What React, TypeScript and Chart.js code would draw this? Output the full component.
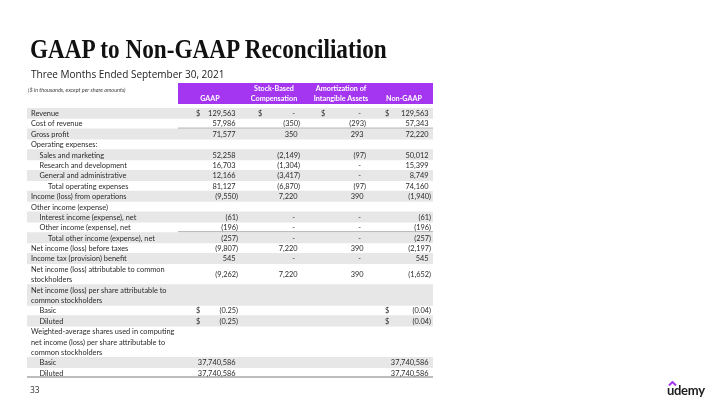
import React, { useEffect, useRef } from 'react';
import { Chart, registerables } from 'chart.js';

Chart.register(...registerables);

// ---------- data ----------
const rowLabels: string[] = [
  'Revenue',
  'Cost of revenue',
  'Gross profit',
  'Operating expenses:',
  'Sales and marketing',
  'Research and development',
  'General and administrative',
  'Total operating expenses',
  'Income (loss) from operations',
  'Other income (expense)',
  'Interest income (expense), net',
  'Other income (expense), net',
  'Total other income (expense), net',
  'Net income (loss) before taxes',
  'Income tax (provision) benefit',
  'Net income (loss) attributable to common\nstockholders',
  'Net income (loss) per share attributable to\ncommon stockholders',
  'Basic',
  'Diluted',
  'Weighted-average shares used in computing\nnet income (loss) per share attributable to\ncommon stockholders',
  'Basic',
  'Diluted',
];
const rowIndent: number[] = [0, 0, 0, 0, 1, 1, 1, 2, 0, 0, 1, 1, 2, 0, 0, 0, 0, 1, 1, 0, 1, 1];

const gaapValues: (number | null)[] = [129563, 57986, 71577, null, 52258, 16703, 12166, 81127, -9550, null, -61, -196, -257, -9807, 545, -9262, null, -0.25, -0.25, null, 37740586, 37740586];
const sbcValues: (number | null)[] = [0, -350, 350, null, -2149, -1304, -3417, -6870, 7220, null, 0, 0, 0, 7220, 0, 7220, null, null, null, null, null, null];
const amortValues: (number | null)[] = [0, -293, 293, null, -97, 0, 0, -97, 390, null, 0, 0, 0, 390, 0, 390, null, null, null, null, null, null];
const nonGaapValues: (number | null)[] = [129563, 57343, 72220, null, 50012, 15399, 8749, 74160, -1940, null, -61, -196, -257, -2197, 545, -1652, null, -0.04, -0.04, null, 37740586, 37740586];

const gaapDollarRows = [0, 17, 18];
const sbcDollarRows = [0];
const amortDollarRows = [0];
const nonGaapDollarRows = [0, 17, 18];
const perShareRows = [17, 18];
const underlinedRows = [1, 6, 11, 14];

const columnHeaders: string[][] = [['GAAP'], ['Stock-Based', 'Compensation'], ['Amortization of', 'Intangible Assets'], ['Non-GAAP']];
const unitsNote = '($ in thousands, except per share amounts)';

// ---------- layout (x in table units: px - 27) ----------
const TABLE_W = 406;
const NUM_START = 151;
const colLayout = [
  { dollar: 169, right: 211, center: 183 },
  { dollar: 231, right: 273, center: 247 },
  { dollar: 294, right: 339, center: 314 },
  { dollar: 358, right: 404, center: 377 },
];
const columnValues = [gaapValues, sbcValues, amortValues, nonGaapValues];
const columnDollars = [gaapDollarRows, sbcDollarRows, amortDollarRows, nonGaapDollarRows];

// lines derived from rows
const rowLines = rowLabels.map((l) => l.split('\n'));
const rowStart: number[] = [];
const lineIds: string[] = [];
rowLines.forEach((lines, r) => {
  rowStart.push(lineIds.length);
  lines.forEach((_, k) => lineIds.push(`${r}-${k}`));
});
const lineRow = lineIds.map((id) => Number(id.split('-')[0]));

function fmt(v: number, dec: number): string {
  if (v === 0) return '-';
  const s = Math.abs(v).toLocaleString('en-US', { minimumFractionDigits: dec, maximumFractionDigits: dec });
  return v < 0 ? `(${s})` : s;
}

const FONT = 'Lato, "Liberation Sans", sans-serif';

const tablePlugin = {
  id: 'tableText',
  afterDatasetsDraw(chart: any) {
    const { ctx, chartArea } = chart;
    const xs = chart.scales.x;
    const ys = chart.scales.y;
    ctx.save();
    // header band
    const hTop = chartArea.top - 25;
    const hBot = chartArea.top - 4;
    ctx.fillStyle = '#a435f0';
    ctx.fillRect(xs.getPixelForValue(NUM_START), hTop, xs.getPixelForValue(TABLE_W) - xs.getPixelForValue(NUM_START), hBot - hTop);
    ctx.fillStyle = '#ffffff';
    ctx.font = `bold 7.2px ${FONT}`;
    ctx.textAlign = 'center';
    ctx.textBaseline = 'middle';
    columnHeaders.forEach((lines, c) => {
      const cx = xs.getPixelForValue(colLayout[c].center);
      lines.forEach((t, k) => {
        const yy = hBot - 5.5 - (lines.length - 1 - k) * 10;
        ctx.fillText(t, cx, yy);
      });
    });
    // note
    ctx.fillStyle = '#444';
    ctx.font = `italic 5.5px ${FONT}`;
    ctx.textAlign = 'left';
    ctx.fillText(unitsNote, xs.getPixelForValue(1), hTop + 7);

    // row labels
    ctx.fillStyle = '#2b2b2b';
    ctx.font = `7.4px ${FONT}`;
    rowLines.forEach((lines, r) => {
      lines.forEach((t, k) => {
        const yy = ys.getPixelForValue(rowStart[r] + k) + 0.5;
        ctx.fillText(t, xs.getPixelForValue(4 + rowIndent[r] * 8.5), yy);
      });
    });
    // numbers
    rowLines.forEach((lines, r) => {
      const y0 = ys.getPixelForValue(rowStart[r]);
      const y1 = ys.getPixelForValue(rowStart[r] + lines.length - 1);
      const yy = (y0 + y1) / 2 + 0.5;
      columnValues.forEach((vals, c) => {
        const v = vals[r];
        if (v === null) return;
        const dec = perShareRows.includes(r) ? 2 : 0;
        const s = fmt(v, dec);
        ctx.textAlign = 'right';
        let rx = xs.getPixelForValue(colLayout[c].right);
        if (v === 0) rx -= 5;
        else if (v > 0) rx -= 2.5;
        ctx.fillText(s, rx, yy);
        if (columnDollars[c].includes(r)) {
          ctx.textAlign = 'left';
          ctx.fillText('$', xs.getPixelForValue(colLayout[c].dollar), yy);
        }
      });
    });
    ctx.restore();
  },
};

export default function App() {
  const ref = useRef<HTMLCanvasElement | null>(null);
  useEffect(() => {
    if (!ref.current) return;
    const stripeData = lineIds.map((_, i) => (lineRow[i] % 2 === 0 ? [0, TABLE_W] : null));
    const underlineData = lineIds.map((_, i) => {
      const r = lineRow[i];
      return underlinedRows.includes(r) && i === rowStart[r] + rowLines[r].length - 1 ? [NUM_START, TABLE_W] : null;
    });
    const ruleData = lineIds.map((_, i) => (i === lineIds.length - 1 ? [0, TABLE_W] : null));
    const chart = new Chart(ref.current, {
      type: 'bar',
      data: {
        labels: lineIds,
        datasets: [
          {
            label: 'stripes',
            data: stripeData as any,
            backgroundColor: '#e7e7e7',
            borderWidth: 0,
            grouped: false,
            barPercentage: 1,
            categoryPercentage: 1,
          } as any,
          {
            label: 'underlines',
            data: underlineData as any,
            backgroundColor: 'rgba(0,0,0,0)',
            borderColor: '#7a7a7a',
            borderWidth: { top: 0, right: 0, bottom: 1, left: 0 },
            borderSkipped: false,
            inflateAmount: 0,
            grouped: false,
            barPercentage: 1,
            categoryPercentage: 1,
          } as any,
          {
            label: 'rule',
            data: ruleData as any,
            backgroundColor: 'rgba(0,0,0,0)',
            borderColor: '#bdbdbd',
            borderWidth: { top: 0, right: 0, bottom: 2, left: 0 },
            borderSkipped: false,
            inflateAmount: 0,
            grouped: false,
            barPercentage: 1,
            categoryPercentage: 1,
          } as any,
        ],
      },
      options: {
        indexAxis: 'y',
        animation: false,
        responsive: false,
        events: [],
        layout: { padding: { left: 27, right: 720 - 433, top: 108, bottom: 405 - 378 } },
        scales: {
          x: { type: 'linear', min: 0, max: TABLE_W, display: false },
          y: { type: 'category', display: false },
        },
        plugins: { legend: { display: false }, tooltip: { enabled: false }, title: { display: false } },
      },
      plugins: [tablePlugin],
    });
    return () => chart.destroy();
  }, []);

  return (
    <div style={{ position: 'fixed', left: 0, top: 0, width: 720, height: 405, background: '#fff', overflow: 'hidden' }}>
      <canvas ref={ref} width={720} height={405} style={{ position: 'absolute', left: 0, top: 0, width: 720, height: 405, display: 'block' }} />
      <div
        style={{
          position: 'absolute',
          left: 30,
          top: 36,
          fontFamily: '"Liberation Serif", serif',
          fontWeight: 700,
          fontSize: 27,
          lineHeight: '27px',
          color: '#111',
          whiteSpace: 'nowrap',
          transform: 'scaleX(0.86)',
          transformOrigin: 'left top',
        }}
      >
        GAAP to Non-GAAP Reconciliation
      </div>
      <div style={{ position: 'absolute', left: 31, top: 67, fontFamily: '"Open Sans", sans-serif', fontSize: 10, lineHeight: '14px', color: '#222', whiteSpace: 'nowrap' }}>
        Three Months Ended September 30, 2021
      </div>
      <div style={{ position: 'absolute', left: 30, top: 384, fontFamily: '"Open Sans", sans-serif', fontSize: 8.5, lineHeight: '12px', color: '#333' }}>33</div>
      <div style={{ position: 'absolute', left: 667, top: 379, width: 40, height: 22 }}>
        <svg width="10" height="5" style={{ position: 'absolute', left: 1, top: 2 }}>
          <polyline points="1,4.5 4.5,1 8,4.5" fill="none" stroke="#a435f0" strokeWidth="2" />
        </svg>
        <div style={{ position: 'absolute', left: 0, top: 2, fontFamily: 'Lato, sans-serif', fontWeight: 700, fontSize: 13, lineHeight: '18px', color: '#1c1d1f', letterSpacing: -0.3 }}>
          udemy
        </div>
      </div>
    </div>
  );
}
